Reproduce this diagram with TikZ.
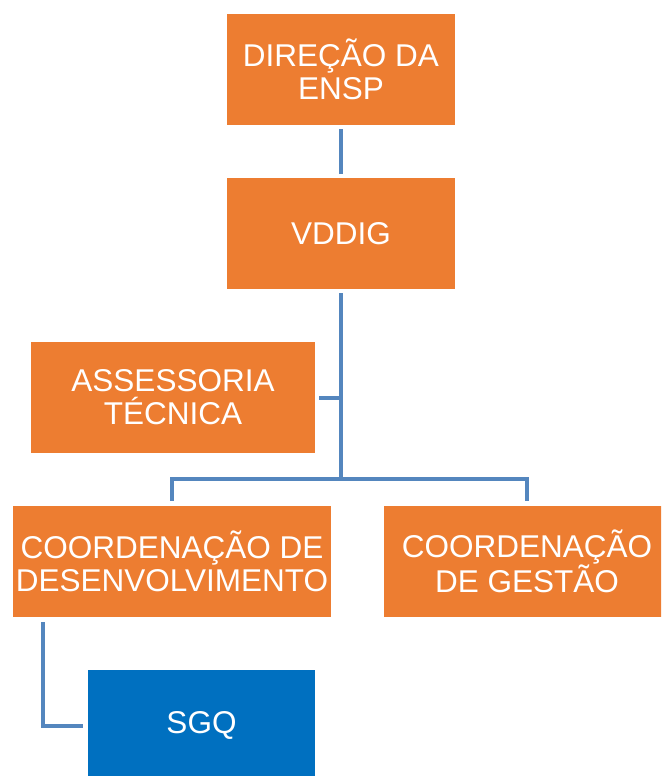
\documentclass[tikz,border=0pt]{standalone}
\usepackage{fontspec}
\setmainfont{Liberation Sans}
\usetikzlibrary{positioning}
\definecolor{orgorange}{HTML}{ED7D31}
\definecolor{orgblue}{HTML}{0070C0}
\definecolor{linkblue}{RGB}{84,134,190}
\tikzstyle{orgbox} = [rectangle, minimum height=111pt, inner sep=0pt, text centered, align=center, text=white, fill=orgorange, font=\fontsize{31.5}{33}\selectfont]
\tikzstyle{quality} = [orgbox, fill=orgblue]
\tikzstyle{link} = [draw=linkblue, line width=4pt]

\begin{document}
\begin{tikzpicture}[node distance=164pt]
	
	\clip (0,0) rectangle (661pt,-776pt);
	
	\node (dir) [orgbox, minimum width=228pt] at (341pt,-69.5pt) {DIREÇÃO DA\\ENSP};
	
	\node (vddig) [orgbox, minimum width=228pt, below of=dir] {VDDIG};
	
	\node (assess) [orgbox, minimum width=284pt, below of=vddig, xshift=-168pt] {ASSESSORIA\\TÉCNICA};
	
	\node (desenv) [orgbox, minimum width=318pt, below of=assess, xshift=-1pt] {COORDENAÇÃO DE\\DESENVOLVIMENTO};
	
	\node (gestao) [orgbox, minimum width=286pt, right of=desenv, xshift=191pt] {COORDENAÇÃO\\DE GESTÃO};
	
	\node (sgq) [quality, minimum width=227pt, below of=desenv, xshift=29.5pt] {SGQ};
	
	%
	\path (vddig.south |- desenv.north) ++(0,27pt) coordinate (hub);

	\draw[link, shorten <=4pt, shorten >=4pt] (dir) -- (vddig);
	\draw[link, shorten <=4pt] (vddig.south) -- (hub);
	\draw[link, shorten <=4pt] (assess.east) -- (assess.east -| vddig.south);
	\draw[link, shorten <=5pt, shorten >=5pt] (desenv.north) |- (hub) -| (gestao.north);
	\draw[link, shorten <=5pt, shorten >=5pt] ([xshift=30pt]desenv.south west) |- (sgq.west);
	
\end{tikzpicture}
\end{document}
